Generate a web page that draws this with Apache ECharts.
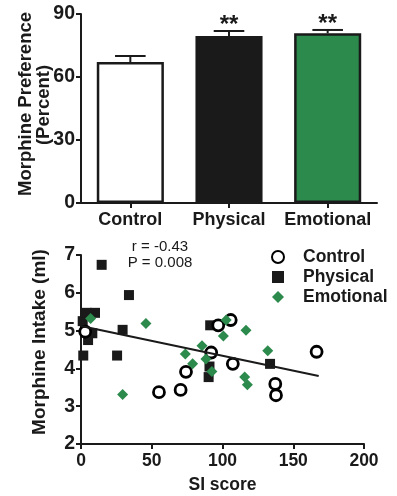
<!DOCTYPE html>
<html>
<head>
<meta charset="utf-8">
<script src="https://cdn.jsdelivr.net/npm/echarts@6/dist/echarts.min.js"></script>
<style>
html,body{margin:0;padding:0;background:#fff;}
#chart{width:397px;height:496px;}
</style>
</head>
<body>
<div id="chart"></div>
<script>
// ---------- Data: bar chart ----------
const groups = ['Control', 'Physical', 'Emotional'];
const prefMean = [67.1, 79.5, 80.8];
const prefSem = [2.9, 2.4, 1.6];
const prefSig = ['', '**', '**'];
const prefTicks = [0, 30, 60, 90];

// ---------- Data: scatter (SI score, morphine intake ml) ----------
const controlPts = [
  [3, 4.97], [55.1, 3.37], [70.4, 3.43], [74.2, 3.91], [92.0, 4.42],
  [97, 5.14], [105.8, 5.28], [107.3, 4.12], [137.3, 3.59], [137.8, 3.29], [166.5, 4.44]
];
const physicalPts = [
  [1.2, 5.25], [4, 5.47], [9.9, 5.47], [14.6, 6.74], [33.9, 5.94], [29.4, 5.02],
  [25.5, 4.34], [1.6, 4.34], [5, 4.75], [8, 4.93], [91.3, 5.14], [90.8, 4.05],
  [90.2, 3.77], [133.6, 4.12]
];
const emotionalPts = [
  [6.8, 5.32], [45.9, 5.19], [29.4, 3.31], [73.7, 4.38], [78.9, 4.12], [85.5, 4.6],
  [88.3, 4.25], [92.5, 3.92], [102.6, 5.28], [100.6, 4.86], [116.6, 5.01],
  [115.7, 3.77], [117.6, 3.57], [132.0, 4.47]
];
const fitLine = [[0, 5.12], [168, 3.80]];
const statR = 'r = -0.43';
const statP = 'P = 0.008';

const GREEN = '#2b8a4c';
const BLACK = '#1a1a1a';
const FONT = '"Liberation Sans", Arial, Helvetica, sans-serif';

const chart = echarts.init(document.getElementById('chart'));

const axisCommon = {
  axisLine: {show: true, lineStyle: {color: BLACK, width: 2}},
  axisTick: {show: true, length: 5, lineStyle: {color: BLACK, width: 2}},
  splitLine: {show: false},
  axisLabel: {color: BLACK, fontFamily: FONT, fontWeight: 'bold', fontSize: 18}
};

const option = {
  animation: false,
  backgroundColor: '#fff',
  grid: [
    {left: 81, top: 14, width: 296, height: 189},
    {left: 81, top: 255, width: 283, height: 189}
  ],
  xAxis: [
    Object.assign({}, axisCommon, {
      gridIndex: 0, type: 'category', data: groups,
      axisTick: {show: true, alignWithLabel: true, length: 5, lineStyle: {color: BLACK, width: 2}},
      axisLabel: Object.assign({}, axisCommon.axisLabel, {margin: 8, fontSize: 18, interval: 0})
    }),
    Object.assign({}, axisCommon, {
      gridIndex: 1, type: 'value', min: 0, max: 200, interval: 50,
      name: 'SI score', nameLocation: 'middle', nameGap: 32,
      nameTextStyle: {color: BLACK, fontFamily: FONT, fontWeight: 'bold', fontSize: 17.5},
      axisLabel: Object.assign({}, axisCommon.axisLabel, {margin: 8, fontSize: 17.5})
    })
  ],
  yAxis: [
    Object.assign({}, axisCommon, {
      gridIndex: 0, type: 'value', min: prefTicks[0], max: prefTicks[prefTicks.length - 1], interval: 30,
      axisLabel: Object.assign({}, axisCommon.axisLabel, {margin: 6, fontSize: 19.5})
    }),
    Object.assign({}, axisCommon, {
      gridIndex: 1, type: 'value', min: 2, max: 7, interval: 1,
      axisLabel: Object.assign({}, axisCommon.axisLabel, {margin: 6, fontSize: 19.5})
    })
  ],
  legend: {
    orient: 'vertical', left: 271, top: 248, itemGap: 2, padding: 0,
    itemWidth: 12, itemHeight: 12,
    data: ['Control', 'Physical', 'Emotional'],
    textStyle: {color: BLACK, fontFamily: FONT, fontWeight: 'bold', fontSize: 17.5, padding: [0, 0, 0, 14]}
  },
  graphic: [
    {type: 'text', x: 26, y: 104, rotation: Math.PI / 2,
      style: {text: 'Morphine Preference', fill: BLACK, font: 'bold 18.5px ' + FONT, align: 'center', verticalAlign: 'middle'}},
    {type: 'text', x: 44, y: 105, rotation: Math.PI / 2,
      style: {text: '(Percent)', fill: BLACK, font: 'bold 18.5px ' + FONT, align: 'center', verticalAlign: 'middle'}},
    {type: 'text', x: 40, y: 342, rotation: Math.PI / 2,
      style: {text: 'Morphine Intake (ml)', fill: BLACK, font: 'bold 19px ' + FONT, align: 'center', verticalAlign: 'middle'}},
    {type: 'text', x: 160, y: 247, style: {text: statR, fill: BLACK, font: '15px ' + FONT, align: 'center', verticalAlign: 'middle'}},
    {type: 'text', x: 160, y: 263, style: {text: statP, fill: BLACK, font: '15px ' + FONT, align: 'center', verticalAlign: 'middle'}}
  ],
  series: [
    {
      type: 'bar', xAxisIndex: 0, yAxisIndex: 0, barWidth: '68%',
      data: prefMean.map((v, i) => ({
        value: v,
        itemStyle: {color: ['#ffffff', BLACK, GREEN][i], borderColor: BLACK, borderWidth: 2.5}
      })),
      z: 2
    },
    {
      type: 'custom', xAxisIndex: 0, yAxisIndex: 0, z: 3,
      data: prefMean.map((m, i) => [i, m, prefSem[i]]),
      renderItem: function (params, api) {
        const i = api.value(0);
        const m = api.value(1), s = api.value(2);
        const base = api.coord([i, m]);
        const cap = api.coord([i, m + s]);
        const half = api.size([1, 0])[0] * 0.155;
        const children = [
          {type: 'line', shape: {x1: base[0], y1: base[1], x2: cap[0], y2: cap[1]}, style: {stroke: BLACK, lineWidth: 2}},
          {type: 'line', shape: {x1: cap[0] - half, y1: cap[1], x2: cap[0] + half, y2: cap[1]}, style: {stroke: BLACK, lineWidth: 2}}
        ];
        const sig = prefSig[params.dataIndex];
        if (sig) {
          children.push({type: 'text', style: {text: sig, x: cap[0], y: cap[1] - 6, align: 'center', verticalAlign: 'middle',
            fill: BLACK, font: 'bold 24px ' + FONT}});
        }
        return {type: 'group', children: children};
      }
    },
    {
      name: 'Control', type: 'scatter', xAxisIndex: 1, yAxisIndex: 1,
      symbol: 'circle', symbolSize: 11, data: controlPts, z: 4,
      itemStyle: {color: '#ffffff', borderColor: '#000', borderWidth: 2.8, opacity: 1}
    },
    {
      name: 'Physical', type: 'scatter', xAxisIndex: 1, yAxisIndex: 1,
      symbol: 'rect', symbolSize: 10, data: physicalPts, z: 3,
      itemStyle: {color: BLACK, opacity: 1}
    },
    {
      name: 'Emotional', type: 'scatter', xAxisIndex: 1, yAxisIndex: 1,
      symbol: 'diamond', symbolSize: 11, data: emotionalPts, z: 5,
      itemStyle: {color: GREEN, opacity: 1}
    },
    {
      type: 'line', xAxisIndex: 1, yAxisIndex: 1, data: fitLine, symbol: 'none', z: 6,
      lineStyle: {color: BLACK, width: 2}, silent: true
    }
  ]
};
chart.setOption(option);
</script>
</body>
</html>
